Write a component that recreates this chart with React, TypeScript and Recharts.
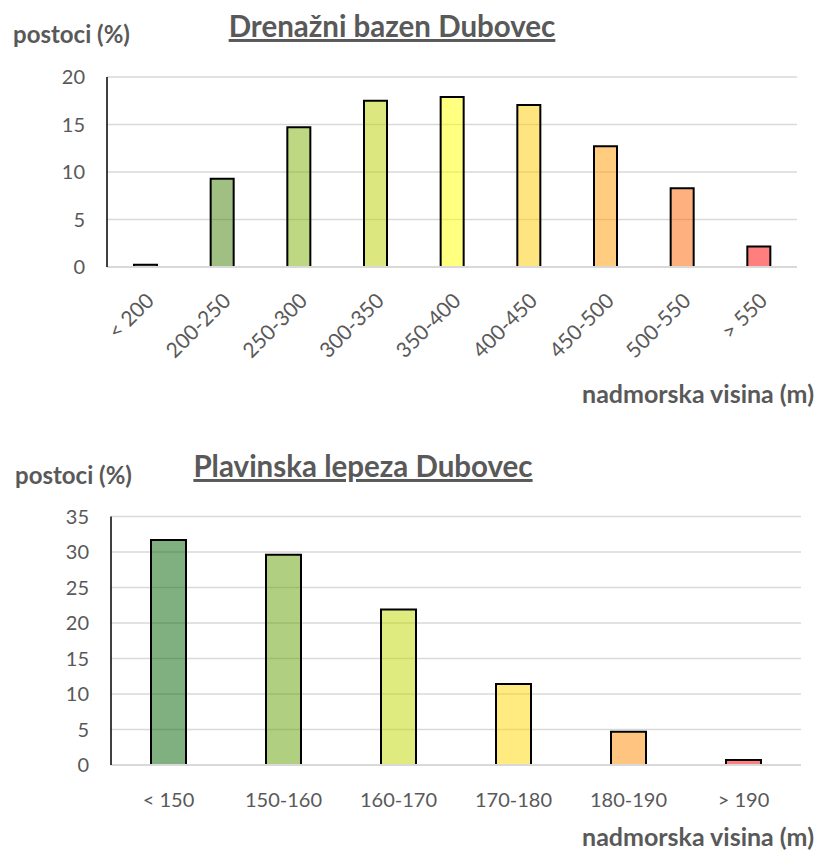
import { BarChart, Bar, XAxis, YAxis, CartesianGrid, Cell } from 'recharts'

const FONT = 'Lato, "Liberation Sans", sans-serif'
const GREY = '#595959'

// Drenažni bazen Dubovec
const basinClasses = ['< 200', '200-250', '250-300', '300-350', '350-400', '400-450', '450-500', '500-550', '> 550']
const basinValues = [0.25, 9.3, 14.7, 17.5, 17.9, 17.05, 12.7, 8.3, 2.15]
const basinColors = ['#1f7a1f', '#3f8105', '#7baf05', '#bbcf00', '#ffff01', '#ffcb00', '#ff9901', '#ff6100', '#ff0000']
const basinTicks = [0, 5, 10, 15, 20]

// Plavinska lepeza Dubovec
const fanClasses = ['< 150', '150-160', '160-170', '170-180', '180-190', '> 190']
const fanValues = [31.7, 29.6, 21.9, 11.4, 4.7, 0.7]
const fanColors = ['#016101', '#639f01', '#c1d700', '#ffd701', '#ff8901', '#ff0000']
const fanTicks = [0, 5, 10, 15, 20, 25, 30, 35]

const basinData = basinClasses.map((name, i) => ({ name, value: basinValues[i] }))
const fanData = fanClasses.map((name, i) => ({ name, value: fanValues[i] }))

const RotatedTick = (props: any) => {
  const { x, y, payload } = props
  return (
    <text
      x={0}
      y={0}
      transform={`translate(${x + 4},${y + 27}) rotate(-45)`}
      textAnchor="end"
      dominantBaseline="central"
      fill={GREY}
      fontSize={21}
      fontFamily={FONT}
    >
      {payload.value}
    </text>
  )
}

const FlatTick = (props: any) => {
  const { x, y, payload } = props
  return (
    <text
      x={x}
      y={y + 32}
      textAnchor="middle"
      dominantBaseline="central"
      fill={GREY}
      fontSize={20}
      fontFamily={FONT}
    >
      {payload.value}
    </text>
  )
}

const yTick = { fill: GREY, fontSize: 20, fontFamily: FONT }

export default function App() {
  return (
    <div style={{ position: 'absolute', left: 0, top: 0, width: 817, height: 859, background: '#fff' }}>
      <div style={{ position: 'absolute', left: 0, top: 0 }}>
        <BarChart
          width={817}
          height={420}
          data={basinData}
          margin={{ top: 77, right: 20, left: 47, bottom: 123 }}
        >
          <CartesianGrid vertical={false} stroke="#d9d9d9" strokeWidth={1.5} />
          <XAxis
            dataKey="name"
            height={30}
            tickLine={false}
            tickSize={0}
            interval={0}
            axisLine={{ stroke: '#d9d9d9', strokeWidth: 2 }}
            tick={<RotatedTick />}
          />
          <YAxis
            width={60}
            domain={[0, 20]}
            ticks={basinTicks}
            tickLine={false}
            tickSize={0}
            tickMargin={22}
            axisLine={{ stroke: '#000', strokeWidth: 1.5 }}
            tick={yTick}
          />
          <Bar
            dataKey="value"
            barSize={23}
            stroke="#000"
            strokeWidth={2}
            fillOpacity={0.5}
            isAnimationActive={false}
          >
            {basinData.map((entry, index) => (
              <Cell key={`basin-${index}`} fill={basinColors[index]} />
            ))}
          </Bar>
        </BarChart>
      </div>

      <div style={{ position: 'absolute', left: 0, top: 430 }}>
        <BarChart
          width={817}
          height={400}
          data={fanData}
          margin={{ top: 86.5, right: 16, left: 51, bottom: 35 }}
        >
          <CartesianGrid vertical={false} stroke="#d9d9d9" strokeWidth={1.5} />
          <XAxis
            dataKey="name"
            height={30}
            tickLine={false}
            tickSize={0}
            interval={0}
            axisLine={{ stroke: '#d9d9d9', strokeWidth: 2 }}
            tick={<FlatTick />}
          />
          <YAxis
            width={60}
            domain={[0, 35]}
            ticks={fanTicks}
            tickLine={false}
            tickSize={0}
            tickMargin={22}
            axisLine={{ stroke: '#000', strokeWidth: 1.5 }}
            tick={yTick}
          />
          <Bar
            dataKey="value"
            barSize={35}
            stroke="#000"
            strokeWidth={2}
            fillOpacity={0.5}
            isAnimationActive={false}
          >
            {fanData.map((entry, index) => (
              <Cell key={`fan-${index}`} fill={fanColors[index]} />
            ))}
          </Bar>
        </BarChart>
      </div>

      <svg
        width={817}
        height={859}
        style={{ position: 'absolute', left: 0, top: 0, pointerEvents: 'none' }}
        fontFamily={FONT}
        fill={GREY}
      >
        <text x={392} y={37} textAnchor="middle" fontSize={29.5} fontWeight="bold" textDecoration="underline">
          Drenažni bazen Dubovec
        </text>
        <text x={13} y={43} fontSize={24} fontWeight="bold">postoci (%)</text>
        <text x={814} y={403} textAnchor="end" fontSize={25} fontWeight="bold">nadmorska visina (m)</text>

        <text x={363} y={477} textAnchor="middle" fontSize={29.5} fontWeight="bold" textDecoration="underline">
          Plavinska lepeza Dubovec
        </text>
        <text x={15} y={484} fontSize={24} fontWeight="bold">postoci (%)</text>
        <text x={814} y={846} textAnchor="end" fontSize={25} fontWeight="bold">nadmorska visina (m)</text>
      </svg>
    </div>
  )
}
